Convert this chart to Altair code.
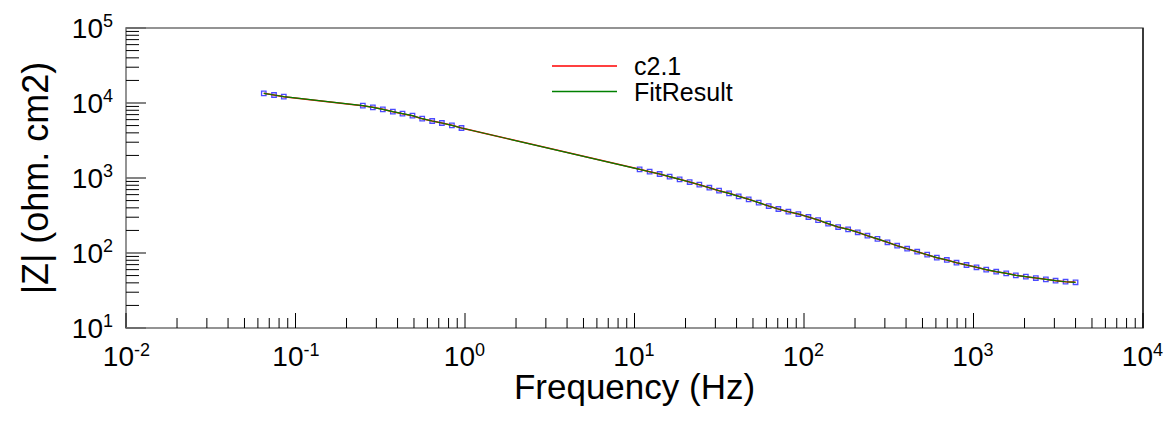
import altair as alt
import pandas as pd

# ---- data (|Z| vs frequency) ----
freq = [0.0650, 0.0747, 0.0853, 0.2496, 0.2860, 0.3275, 0.3753, 0.4277, 0.4898, 0.5590,
        0.6404, 0.7304, 0.8369, 0.9535,
        10.72, 12.28, 14.07, 16.11, 18.46, 21.15, 24.13, 27.65, 31.54, 36.13,
        41.17, 47.16, 54.03, 61.89, 70.61, 80.88, 92.66, 106.2, 121.1, 138.8,
        159.0, 182.1,
        207.5, 236.7, 271.3, 310.8, 354.5, 406.1, 465.4, 533.0, 607.4, 695.9,
        793.6, 909.3, 1041.6, 1188.5, 1361.4, 1559.6, 1776.9, 2036, 2332, 2672,
        3049, 3492, 4000]
zmod = [13470, 12785, 12134, 9204, 8766, 8241, 7656, 7200, 6771, 6175,
        5754, 5412, 5043, 4642,
        1306, 1213, 1131, 1041, 961, 884, 814, 742, 677, 625,
        570, 520, 469, 423, 386, 355, 331, 302, 275, 246,
        222, 207,
        189, 170, 154, 139, 125, 114, 104, 94.9, 86.6, 80.7,
        74.2, 69.2, 64.5, 59.9, 56.3, 53.6, 50.4, 48.3, 46.4, 44.6,
        42.7, 41.4, 40.7]
# the fit curve lies on top of the measured curve in the picture
fit_z = list(zmod)

series_names = ["c2.1", "FitResult"]
series_colors = ["#ff0000", "#008000"]

x_decades = [0.01, 0.1, 1, 10, 100, 1000, 10000]
x_exps = ["-2", "-1", "0", "1", "2", "3", "4"]
y_decades = [10, 100, 1000, 10000, 100000]
y_exps = ["1", "2", "3", "4", "5"]
minor_mult = [2, 3, 4, 5, 6, 7, 8, 9]

x_title = "Frequency (Hz)"
y_title = "|Z| (ohm. cm2)"

FONT = "Liberation Sans"
W, H = 1017, 300

df = pd.DataFrame({"freq": freq, "z": zmod, "fit": fit_z})

xs = alt.Scale(type="log", domain=[0.01, 10000], nice=False)
ys = alt.Scale(type="log", domain=[10, 100000], nice=False)

pts = alt.Chart(df).mark_point(shape="square", size=20, filled=False,
                               stroke="#0000ff", strokeWidth=1.3).encode(
    x=alt.X("freq:Q", scale=xs, axis=None),
    y=alt.Y("z:Q", scale=ys, axis=None))

line_data = alt.Chart(df).mark_line(color=series_colors[0], strokeWidth=1.5).encode(
    x=alt.X("freq:Q", scale=xs, axis=None),
    y=alt.Y("z:Q", scale=ys, axis=None))

line_fit = alt.Chart(df).mark_line(color=series_colors[1], strokeWidth=1.2).encode(
    x=alt.X("freq:Q", scale=xs, axis=None),
    y=alt.Y("fit:Q", scale=ys, axis=None))

# ---- inward ticks ----
xmaj = pd.DataFrame({"v": x_decades})
xmin = pd.DataFrame({"v": [k * d for d in x_decades[:-1] for k in minor_mult]})
ymaj = pd.DataFrame({"v": y_decades})
ymin = pd.DataFrame({"v": [k * d for d in y_decades[:-1] for k in minor_mult]})

xmaj_t = alt.Chart(xmaj).mark_rule(color="#000000", strokeWidth=1).encode(
    x=alt.X("v:Q", scale=xs, axis=None), y=alt.value(H), y2=alt.value(H - 15))
xmin_t = alt.Chart(xmin).mark_rule(color="#000000", strokeWidth=1).encode(
    x=alt.X("v:Q", scale=xs, axis=None), y=alt.value(H), y2=alt.value(H - 10))
ymaj_t = alt.Chart(ymaj).mark_rule(color="#666666", strokeWidth=1.6).encode(
    y=alt.Y("v:Q", scale=ys, axis=None), x=alt.value(0), x2=alt.value(20))
ymin_t = alt.Chart(ymin).mark_rule(color="#000000", strokeWidth=1).encode(
    y=alt.Y("v:Q", scale=ys, axis=None), x=alt.value(0), x2=alt.value(13))

right_border = alt.Chart(pd.DataFrame({"v": [x_decades[-1]]})).mark_rule(
    color="#000000", strokeWidth=1.2).encode(
    x=alt.X("v:Q", scale=xs, axis=None), y=alt.value(0), y2=alt.value(H))

# ---- tick labels: "10" with a superscript exponent ----
xl = pd.DataFrame({"v": x_decades, "e": x_exps,
                   "neg": [e.startswith("-") for e in x_exps]})
yl = pd.DataFrame({"v": y_decades, "e": y_exps})

def xlab(neg, off):
    base = alt.Chart(xl).transform_filter(alt.datum.neg == neg)
    ten = base.mark_text(text="10", font=FONT, fontSize=28, align="right",
                         baseline="alphabetic", dx=off, color="#000000").encode(
        x=alt.X("v:Q", scale=xs, axis=None), y=alt.value(H + 38))
    ex = base.mark_text(font=FONT, fontSize=18, align="left",
                        baseline="alphabetic", dx=off, color="#000000").encode(
        x=alt.X("v:Q", scale=xs, axis=None), y=alt.value(H + 28), text="e:N")
    return [ten, ex]

xlabels = xlab(True, 8) + xlab(False, 10)

yten = alt.Chart(yl).mark_text(text="10", font=FONT, fontSize=28, align="right",
                               baseline="alphabetic", dy=10, color="#000000").encode(
    y=alt.Y("v:Q", scale=ys, axis=None), x=alt.value(-23))
yex = alt.Chart(yl).mark_text(font=FONT, fontSize=18, align="left",
                              baseline="alphabetic", dy=-1, color="#000000").encode(
    y=alt.Y("v:Q", scale=ys, axis=None), x=alt.value(-23), text="e:N")

# ---- axis titles ----
xt = alt.Chart(pd.DataFrame({"t": [x_title]})).mark_text(
    font=FONT, fontSize=35, align="center", baseline="alphabetic", color="#000000").encode(
    x=alt.value(W / 2), y=alt.value(H + 71), text="t:N")
yt = alt.Chart(pd.DataFrame({"t": [y_title]})).mark_text(
    font=FONT, fontSize=36, align="center", baseline="alphabetic", angle=270,
    color="#000000").encode(
    x=alt.value(-78), y=alt.value(H / 2), text="t:N")

# ---- legend ----
legend_layers = []
for i, (name, col) in enumerate(zip(series_names, series_colors)):
    ld = pd.DataFrame({"name": [name]})
    yy = 38 + 25.5 * i
    legend_layers.append(alt.Chart(ld).mark_rule(color=col, strokeWidth=1.3).encode(
        x=alt.value(426), x2=alt.value(491), y=alt.value(yy)))
    legend_layers.append(alt.Chart(ld).mark_text(
        font=FONT, fontSize=25, align="left", baseline="middle", color="#000000").encode(
        x=alt.value(508), y=alt.value(yy + 1), text="name:N"))

chart = alt.layer(
    xmin_t, xmaj_t, ymin_t, ymaj_t, right_border,
    pts, line_data, line_fit,
    *xlabels, yten, yex, xt, yt, *legend_layers
).properties(
    width=W, height=H,
    padding={"left": 118, "top": 20, "right": 21, "bottom": 88},
    autosize=alt.AutoSizeParams(type="none"),
    background="#ffffff",
).configure_view(stroke="#707070", strokeWidth=1.5)

chart.save("out.html", embed_options={"renderer": "svg", "actions": False})
